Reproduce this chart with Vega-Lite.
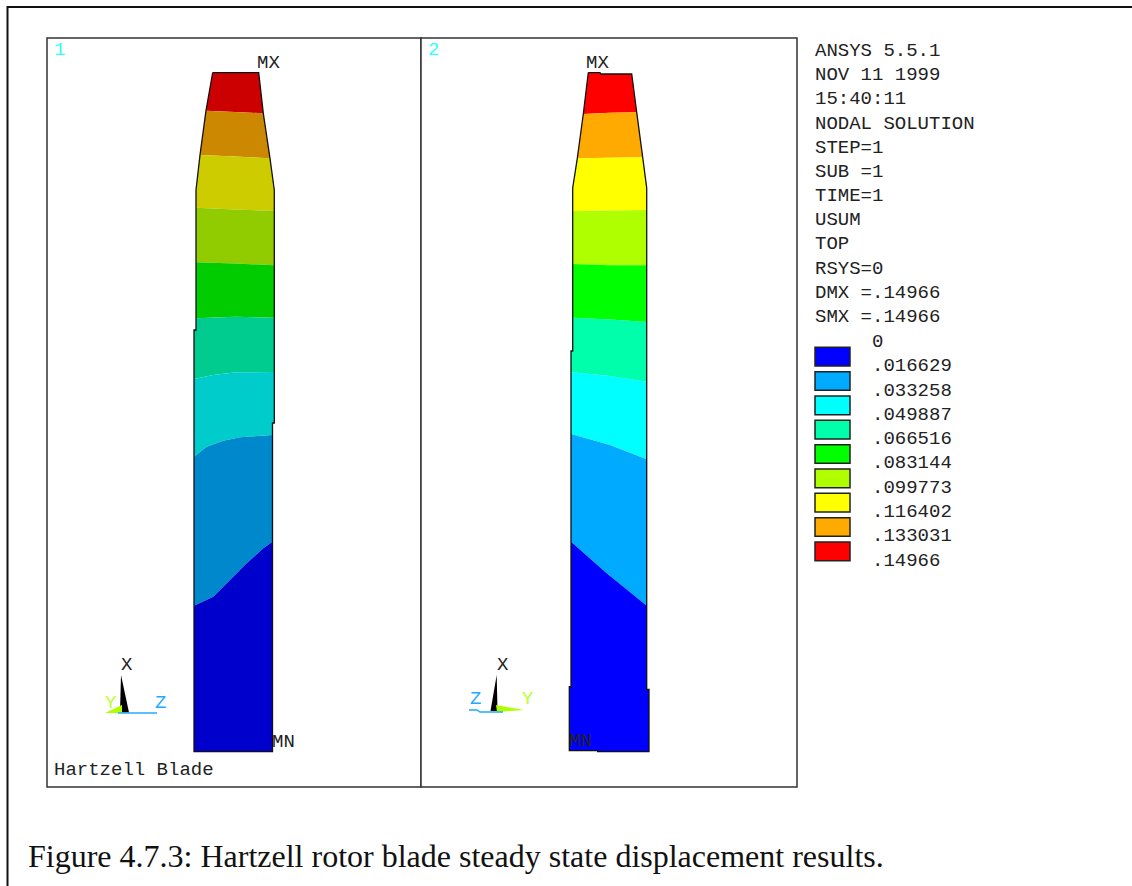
{
"$schema":"https://vega.github.io/schema/vega-lite/v6.json",
"autosize":{"type":"none"},
"width":1132,"height":886,
"background":"white",
"padding":0,
"view":{"stroke":null},
"config":{"view":{"stroke":null}},
"datasets":{
"bands":[
{"band":"1-9","c":"a9","o":1,"px":212.7,"py":72.7},{"band":"1-9","c":"a9","o":2,"px":258.7,"py":72.7},{"band":"1-9","c":"a9","o":3,"px":263.3,"py":113.3},{"band":"1-9","c":"a9","o":4,"px":235,"py":112},{"band":"1-9","c":"a9","o":5,"px":206,"py":110.7},
{"band":"1-8","c":"a8","o":1,"px":206,"py":110.7},{"band":"1-8","c":"a8","o":2,"px":235,"py":112},{"band":"1-8","c":"a8","o":3,"px":263.3,"py":113.3},{"band":"1-8","c":"a8","o":4,"px":270,"py":158.3},{"band":"1-8","c":"a8","o":5,"px":235,"py":156.5},{"band":"1-8","c":"a8","o":6,"px":200,"py":155},
{"band":"1-7","c":"a7","o":1,"px":200,"py":155},{"band":"1-7","c":"a7","o":2,"px":235,"py":156.5},{"band":"1-7","c":"a7","o":3,"px":270,"py":158.3},{"band":"1-7","c":"a7","o":4,"px":274.3,"py":190},{"band":"1-7","c":"a7","o":5,"px":274.3,"py":211},{"band":"1-7","c":"a7","o":6,"px":235,"py":209.5},{"band":"1-7","c":"a7","o":7,"px":196,"py":207.7},{"band":"1-7","c":"a7","o":8,"px":196,"py":190},
{"band":"1-6","c":"a6","o":1,"px":196,"py":207.7},{"band":"1-6","c":"a6","o":2,"px":235,"py":209.5},{"band":"1-6","c":"a6","o":3,"px":274.3,"py":211},{"band":"1-6","c":"a6","o":4,"px":274.3,"py":265.3},{"band":"1-6","c":"a6","o":5,"px":235,"py":263.5},{"band":"1-6","c":"a6","o":6,"px":196,"py":262.3},
{"band":"1-5","c":"a5","o":1,"px":196,"py":262.3},{"band":"1-5","c":"a5","o":2,"px":235,"py":263.5},{"band":"1-5","c":"a5","o":3,"px":274.3,"py":265.3},{"band":"1-5","c":"a5","o":4,"px":274.3,"py":317.7},{"band":"1-5","c":"a5","o":5,"px":235,"py":316.7},{"band":"1-5","c":"a5","o":6,"px":196,"py":318.3},
{"band":"1-4","c":"a4","o":1,"px":196,"py":318.3},{"band":"1-4","c":"a4","o":2,"px":235,"py":316.7},{"band":"1-4","c":"a4","o":3,"px":274.3,"py":317.7},{"band":"1-4","c":"a4","o":4,"px":274.3,"py":372},{"band":"1-4","c":"a4","o":5,"px":236.7,"py":372.3},{"band":"1-4","c":"a4","o":6,"px":213,"py":375},{"band":"1-4","c":"a4","o":7,"px":194,"py":379},{"band":"1-4","c":"a4","o":8,"px":194,"py":330},{"band":"1-4","c":"a4","o":9,"px":196,"py":330},
{"band":"1-3","c":"a3","o":1,"px":194,"py":379},{"band":"1-3","c":"a3","o":2,"px":213,"py":375},{"band":"1-3","c":"a3","o":3,"px":236.7,"py":372.3},{"band":"1-3","c":"a3","o":4,"px":274.3,"py":372},{"band":"1-3","c":"a3","o":5,"px":274.3,"py":423},{"band":"1-3","c":"a3","o":6,"px":272.5,"py":423},{"band":"1-3","c":"a3","o":7,"px":272.5,"py":435},{"band":"1-3","c":"a3","o":8,"px":240,"py":437.3},{"band":"1-3","c":"a3","o":9,"px":223.3,"py":440.7},{"band":"1-3","c":"a3","o":10,"px":206.7,"py":446.7},{"band":"1-3","c":"a3","o":11,"px":194,"py":456.7},
{"band":"1-2","c":"a2","o":1,"px":194,"py":456.7},{"band":"1-2","c":"a2","o":2,"px":206.7,"py":446.7},{"band":"1-2","c":"a2","o":3,"px":223.3,"py":440.7},{"band":"1-2","c":"a2","o":4,"px":240,"py":437.3},{"band":"1-2","c":"a2","o":5,"px":272.5,"py":435},{"band":"1-2","c":"a2","o":6,"px":272.5,"py":541.7},{"band":"1-2","c":"a2","o":7,"px":263.3,"py":548.3},{"band":"1-2","c":"a2","o":8,"px":246.7,"py":563.3},{"band":"1-2","c":"a2","o":9,"px":230,"py":580},{"band":"1-2","c":"a2","o":10,"px":213.3,"py":596.7},{"band":"1-2","c":"a2","o":11,"px":194,"py":605.7},
{"band":"1-1","c":"a1","o":1,"px":194,"py":605.7},{"band":"1-1","c":"a1","o":2,"px":213.3,"py":596.7},{"band":"1-1","c":"a1","o":3,"px":230,"py":580},{"band":"1-1","c":"a1","o":4,"px":246.7,"py":563.3},{"band":"1-1","c":"a1","o":5,"px":263.3,"py":548.3},{"band":"1-1","c":"a1","o":6,"px":272.5,"py":541.7},{"band":"1-1","c":"a1","o":7,"px":272.5,"py":751.7},{"band":"1-1","c":"a1","o":8,"px":194,"py":751.7},

{"band":"2-9","c":"b9","o":1,"px":588.3,"py":72.7},{"band":"2-9","c":"b9","o":2,"px":600,"py":72.7},{"band":"2-9","c":"b9","o":3,"px":601,"py":74},{"band":"2-9","c":"b9","o":4,"px":631.7,"py":74},{"band":"2-9","c":"b9","o":5,"px":636.7,"py":112.3},{"band":"2-9","c":"b9","o":6,"px":610,"py":112.7},{"band":"2-9","c":"b9","o":7,"px":583.3,"py":114},
{"band":"2-8","c":"b8","o":1,"px":583.3,"py":114},{"band":"2-8","c":"b8","o":2,"px":610,"py":112.7},{"band":"2-8","c":"b8","o":3,"px":636.7,"py":112.3},{"band":"2-8","c":"b8","o":4,"px":642.7,"py":157.3},{"band":"2-8","c":"b8","o":5,"px":577.3,"py":158.3},
{"band":"2-7","c":"b7","o":1,"px":577.3,"py":158.3},{"band":"2-7","c":"b7","o":2,"px":642.7,"py":157.3},{"band":"2-7","c":"b7","o":3,"px":646.7,"py":188},{"band":"2-7","c":"b7","o":4,"px":646.7,"py":210},{"band":"2-7","c":"b7","o":5,"px":572.7,"py":211},{"band":"2-7","c":"b7","o":6,"px":572.7,"py":188},
{"band":"2-6","c":"b6","o":1,"px":572.7,"py":211},{"band":"2-6","c":"b6","o":2,"px":646.7,"py":210},{"band":"2-6","c":"b6","o":3,"px":646.7,"py":265.3},{"band":"2-6","c":"b6","o":4,"px":610,"py":265.3},{"band":"2-6","c":"b6","o":5,"px":572.7,"py":264},
{"band":"2-5","c":"b5","o":1,"px":572.7,"py":264},{"band":"2-5","c":"b5","o":2,"px":610,"py":265.3},{"band":"2-5","c":"b5","o":3,"px":646.7,"py":265.3},{"band":"2-5","c":"b5","o":4,"px":646.7,"py":322},{"band":"2-5","c":"b5","o":5,"px":610,"py":319.5},{"band":"2-5","c":"b5","o":6,"px":572.7,"py":317.7},
{"band":"2-4","c":"b4","o":1,"px":572.7,"py":317.7},{"band":"2-4","c":"b4","o":2,"px":610,"py":319.5},{"band":"2-4","c":"b4","o":3,"px":646.7,"py":322},{"band":"2-4","c":"b4","o":4,"px":646.7,"py":381.7},{"band":"2-4","c":"b4","o":5,"px":610,"py":376},{"band":"2-4","c":"b4","o":6,"px":571,"py":372.3},{"band":"2-4","c":"b4","o":7,"px":571,"py":351},{"band":"2-4","c":"b4","o":8,"px":572.7,"py":351},
{"band":"2-3","c":"b3","o":1,"px":571,"py":372.3},{"band":"2-3","c":"b3","o":2,"px":610,"py":376},{"band":"2-3","c":"b3","o":3,"px":646.7,"py":381.7},{"band":"2-3","c":"b3","o":4,"px":646.7,"py":459.3},{"band":"2-3","c":"b3","o":5,"px":610,"py":445},{"band":"2-3","c":"b3","o":6,"px":571,"py":434},
{"band":"2-2","c":"b2","o":1,"px":571,"py":434},{"band":"2-2","c":"b2","o":2,"px":610,"py":445},{"band":"2-2","c":"b2","o":3,"px":646.7,"py":459.3},{"band":"2-2","c":"b2","o":4,"px":646.7,"py":605.7},{"band":"2-2","c":"b2","o":5,"px":606.7,"py":573.3},{"band":"2-2","c":"b2","o":6,"px":571,"py":541.7},
{"band":"2-1","c":"b1","o":1,"px":571,"py":541.7},{"band":"2-1","c":"b1","o":2,"px":606.7,"py":573.3},{"band":"2-1","c":"b1","o":3,"px":646.7,"py":605.7},{"band":"2-1","c":"b1","o":4,"px":646.7,"py":689.3},{"band":"2-1","c":"b1","o":5,"px":649,"py":689.3},{"band":"2-1","c":"b1","o":6,"px":649,"py":751.7},{"band":"2-1","c":"b1","o":7,"px":597.7,"py":751.7},{"band":"2-1","c":"b1","o":8,"px":597.7,"py":750.7},{"band":"2-1","c":"b1","o":9,"px":569.3,"py":750.7},{"band":"2-1","c":"b1","o":10,"px":569.3,"py":686.7},{"band":"2-1","c":"b1","o":11,"px":571,"py":686.7},

{"band":"t1","c":"black","o":1,"px":121,"py":675},{"band":"t1","c":"black","o":2,"px":129,"py":712.5},{"band":"t1","c":"black","o":3,"px":120,"py":712.5},
{"band":"t2","c":"b6","o":1,"px":105,"py":713},{"band":"t2","c":"b6","o":2,"px":122,"py":705},{"band":"t2","c":"b6","o":3,"px":122,"py":713},
{"band":"t3","c":"black","o":1,"px":496.7,"py":675},{"band":"t3","c":"black","o":2,"px":497.5,"py":711},{"band":"t3","c":"black","o":3,"px":490.5,"py":711},
{"band":"t4","c":"b6","o":1,"px":496,"py":705},{"band":"t4","c":"b6","o":2,"px":524,"py":710},{"band":"t4","c":"b6","o":3,"px":497,"py":712}
],
"outlines":[
{"s":"o1","o":1,"px":212.7,"py":72.7},{"s":"o1","o":2,"px":258.7,"py":72.7},{"s":"o1","o":3,"px":263.3,"py":113.3},{"s":"o1","o":4,"px":270,"py":158.3},{"s":"o1","o":5,"px":274.3,"py":190},{"s":"o1","o":6,"px":274.3,"py":423},{"s":"o1","o":7,"px":272.5,"py":423},{"s":"o1","o":8,"px":272.5,"py":751.7},{"s":"o1","o":9,"px":194,"py":751.7},{"s":"o1","o":10,"px":194,"py":330},{"s":"o1","o":11,"px":196,"py":330},{"s":"o1","o":12,"px":196,"py":190},{"s":"o1","o":13,"px":200,"py":155},{"s":"o1","o":14,"px":206,"py":110.7},{"s":"o1","o":15,"px":212.7,"py":72.7},
{"s":"o2","o":1,"px":588.3,"py":72.7},{"s":"o2","o":2,"px":600,"py":72.7},{"s":"o2","o":3,"px":601,"py":74},{"s":"o2","o":4,"px":631.7,"py":74},{"s":"o2","o":5,"px":636.7,"py":112.3},{"s":"o2","o":6,"px":642.7,"py":157.3},{"s":"o2","o":7,"px":646.7,"py":188},{"s":"o2","o":8,"px":646.7,"py":689.3},{"s":"o2","o":9,"px":649,"py":689.3},{"s":"o2","o":10,"px":649,"py":751.7},{"s":"o2","o":11,"px":597.7,"py":751.7},{"s":"o2","o":12,"px":597.7,"py":750.7},{"s":"o2","o":13,"px":569.3,"py":750.7},{"s":"o2","o":14,"px":569.3,"py":686.7},{"s":"o2","o":15,"px":571,"py":686.7},{"s":"o2","o":16,"px":571,"py":351},{"s":"o2","o":17,"px":572.7,"py":351},{"s":"o2","o":18,"px":572.7,"py":188},{"s":"o2","o":19,"px":577.3,"py":158.3},{"s":"o2","o":20,"px":583.3,"py":114},{"s":"o2","o":21,"px":588.3,"py":72.7}
],
"axisLines":[
{"s":"z1","o":1,"px":118,"py":713},{"s":"z1","o":2,"px":157,"py":713},
{"s":"z2","o":1,"px":469,"py":710},{"s":"z2","o":2,"px":477,"py":710},{"s":"z2","o":3,"px":480,"py":712},{"s":"z2","o":4,"px":503,"py":712}
],
"border":[{"o":1,"px":7.5,"py":886},{"o":2,"px":7.5,"py":7},{"o":3,"px":1132,"py":7}],
"swatches":[
{"c":"b1","l":815,"r":850,"t":347.3,"b":366},{"c":"b2","l":815,"r":850,"t":371.7,"b":390.3},{"c":"b3","l":815,"r":850,"t":396,"b":414.7},{"c":"b4","l":815,"r":850,"t":420.3,"b":439},{"c":"b5","l":815,"r":850,"t":444.7,"b":463.3},{"c":"b6","l":815,"r":850,"t":469,"b":487.7},{"c":"b7","l":815,"r":850,"t":493.3,"b":512},{"c":"b8","l":815,"r":850,"t":517.7,"b":536.3},{"c":"b9","l":815,"r":850,"t":542,"b":560.7}
],
"frames":[
{"l":47,"r":421,"t":38,"b":787},{"l":421,"r":797,"t":38,"b":787}
],
"labels":[
{"t":"ANSYS 5.5.1","px":815,"py":50,"c":"ink"},{"t":"NOV 11 1999","px":815,"py":74,"c":"ink"},{"t":"15:40:11","px":815,"py":98,"c":"ink"},{"t":"NODAL SOLUTION","px":815,"py":122.5,"c":"ink"},{"t":"STEP=1","px":815,"py":147,"c":"ink"},{"t":"SUB =1","px":815,"py":171,"c":"ink"},{"t":"TIME=1","px":815,"py":195,"c":"ink"},{"t":"USUM","px":815,"py":219,"c":"ink"},{"t":"TOP","px":815,"py":243,"c":"ink"},{"t":"RSYS=0","px":815,"py":268,"c":"ink"},{"t":"DMX =.14966","px":815,"py":292,"c":"ink"},{"t":"SMX =.14966","px":815,"py":316,"c":"ink"},
{"t":"0","px":872,"py":340.5,"c":"ink"},{"t":".016629","px":872,"py":365,"c":"ink"},{"t":".033258","px":872,"py":389.5,"c":"ink"},{"t":".049887","px":872,"py":413.5,"c":"ink"},{"t":".066516","px":872,"py":438,"c":"ink"},{"t":".083144","px":872,"py":462,"c":"ink"},{"t":".099773","px":872,"py":486.5,"c":"ink"},{"t":".116402","px":872,"py":510.5,"c":"ink"},{"t":".133031","px":872,"py":535,"c":"ink"},{"t":".14966","px":872,"py":559.5,"c":"ink"},
{"t":"MX","px":257,"py":62,"c":"ink"},{"t":"MX","px":586,"py":62,"c":"ink"},{"t":"MN","px":272,"py":741,"c":"ink"},{"t":"MN","px":569,"py":740,"c":"ink"},
{"t":"X","px":121,"py":664,"c":"ink"},{"t":"X","px":497,"py":664,"c":"ink"},
{"t":"Y","px":105,"py":702,"c":"ygr"},{"t":"Y","px":522,"py":698,"c":"ygr"},
{"t":"Z","px":155,"py":702,"c":"sky"},{"t":"Z","px":470,"py":698,"c":"sky"},
{"t":"1","px":54,"py":49,"c":"cya"},{"t":"2","px":428,"py":49,"c":"cya"},
{"t":"Hartzell Blade","px":54,"py":769,"c":"ink"}
],
"caption":[{"t":"Figure 4.7.3: Hartzell rotor blade steady state displacement results.","px":28,"py":857}]
},
"encoding":{
 "x":{"field":"px","type":"quantitative","scale":{"domain":[0,1132],"nice":false,"zero":false},"axis":null},
 "y":{"field":"py","type":"quantitative","scale":{"domain":[0,886],"reverse":true,"nice":false,"zero":false},"axis":null}
},
"layer":[
{"data":{"name":"border"},"mark":{"type":"line","color":"#111111","strokeWidth":2},
 "encoding":{"order":{"field":"o","type":"quantitative"}}},
{"data":{"name":"frames"},"mark":{"type":"rect","fill":"white","stroke":"#333333","strokeWidth":1.5},
 "encoding":{"x":{"field":"l","type":"quantitative"},"x2":{"field":"r"},"y":{"field":"t","type":"quantitative"},"y2":{"field":"b"}}},
{"data":{"name":"bands"},"mark":{"type":"line","filled":true,"interpolate":"linear-closed","strokeWidth":0},
 "encoding":{"detail":{"field":"band"},"order":{"field":"o","type":"quantitative"},
 "color":{"field":"c","type":"nominal","legend":null,"scale":{"domain":["a1","a2","a3","a4","a5","a6","a7","a8","a9","b1","b2","b3","b4","b5","b6","b7","b8","b9","black","ink","ygr","sky","cya"],"range":["#0000cc","#0088cc","#00cccc","#00cc90","#00cc00","#90cc00","#cccc00","#cc8800","#cc0000","#0000ff","#00aaff","#00ffff","#00ffaa","#00ff00","#b0ff00","#ffff00","#ffaa00","#ff0000","#000000","#222222","#b8ff30","#22aaff","#33ffff"]}}}},
{"data":{"name":"outlines"},"mark":{"type":"line","color":"#111111","strokeWidth":1.3},
 "encoding":{"detail":{"field":"s"},"order":{"field":"o","type":"quantitative"}}},
{"data":{"name":"axisLines"},"mark":{"type":"line","color":"#22aaff","strokeWidth":1.5},
 "encoding":{"detail":{"field":"s"},"order":{"field":"o","type":"quantitative"}}},
{"data":{"name":"swatches"},"mark":{"type":"rect","stroke":"#222222","strokeWidth":1.5},
 "encoding":{"x":{"field":"l","type":"quantitative"},"x2":{"field":"r"},"y":{"field":"t","type":"quantitative"},"y2":{"field":"b"},
 "color":{"field":"c","type":"nominal","legend":null}}},
{"data":{"name":"labels"},"mark":{"type":"text","font":"Liberation Mono","fontSize":19,"align":"left","baseline":"middle"},
 "encoding":{"text":{"field":"t"},"color":{"field":"c","type":"nominal","legend":null}}},
{"data":{"name":"caption"},"mark":{"type":"text","font":"Liberation Serif","fontSize":32,"align":"left","baseline":"middle","color":"#111111"},
 "encoding":{"text":{"field":"t"}}}
]
}
